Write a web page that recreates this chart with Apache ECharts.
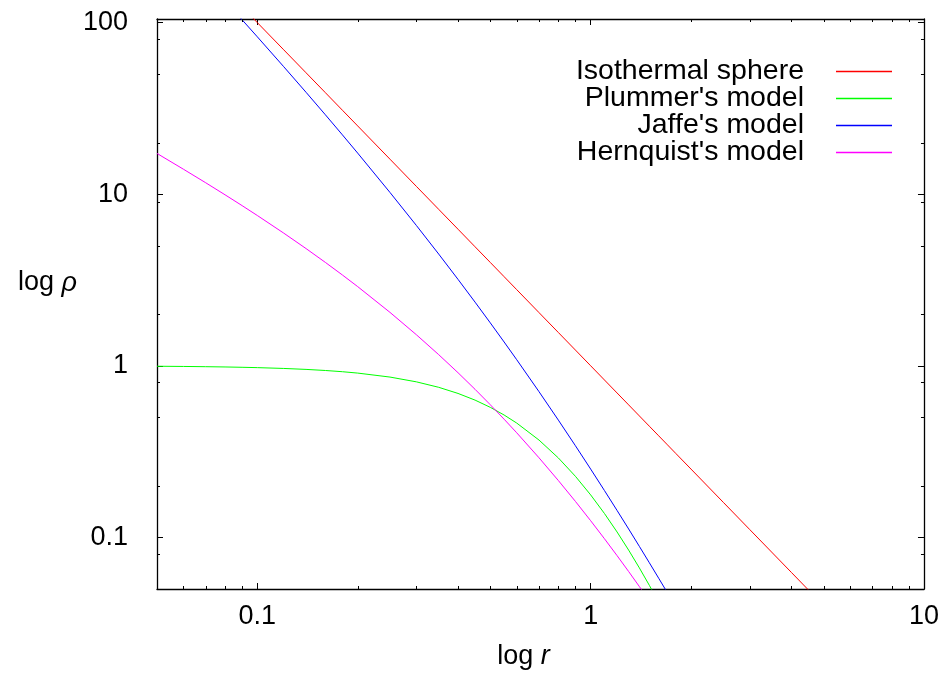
<!DOCTYPE html>
<html>
<head>
<meta charset="utf-8">
<script src="https://cdn.jsdelivr.net/npm/echarts@6/dist/echarts.min.js"></script>
<style>html,body{margin:0;padding:0;background:#fff}#c{width:942px;height:676px}</style>
</head>
<body>
<div id="c"></div>
<script>
// ---- data ----
const seriesNames = ["Isothermal sphere", "Plummer's model", "Jaffe's model", "Hernquist's model"];
const seriesColors = ['#ff0000', '#00ff00', '#0000ff', '#ff00ff'];
const radius = [0.05,0.06,0.07,0.08,0.09,0.1,0.12,0.14,0.16,0.18,0.2,0.25,0.3,0.35,0.4,0.45,0.5,0.55,0.6,0.7,0.8,0.9,1,1.1,1.2,1.3,1.4,1.5,1.6,1.7,1.8,2,2.5,3,4,5];
const isothermal = [400,277.8,204.1,156.3,123.5,100,69.44,51.02,39.06,30.86,25,16,11.11,8.163,6.25,4.938,4,3.306,2.778,2.041,1.5625,1.235,1,0.8264,0.6944,0.5917,0.5102,0.4444,0.3906,0.3460,0.3086,0.25,0.16,0.1111,0.0625,0.04];
const plummer = [0.9938,0.9911,0.9878,0.9842,0.9800,0.9754,0.9649,0.9526,0.9388,0.9234,0.9066,0.8594,0.8062,0.7491,0.6900,0.6307,0.5724,0.5165,0.4636,0.3690,0.2903,0.2269,0.1768,0.1377,0.1075,0.08425,0.06635,0.05252,0.04181,0.03352,0.02700,0.01789,0.00707,0.00316,0.00084,0.00029];
const jaffe = [362.8,247.2,178.3,134.0,103.9,82.64,55.36,39.26,29.03,22.17,17.36,10.24,6.575,4.479,3.189,2.349,1.778,1.376,1.085,0.7062,0.4823,0.3420,0.25,0.1874,0.1435,0.1119,0.08858,0.07111,0.05778,0.04747,0.03937,0.02778,0.01306,0.006944,0.0025,0.00111];
const hernquist = [17.28,13.99,11.66,9.923,8.580,7.513,5.932,4.821,4.004,3.381,2.894,2.048,1.517,1.161,0.9111,0.7289,0.5926,0.4882,0.4069,0.2908,0.2143,0.1620,0.125,0.09816,0.07826,0.06322,0.05167,0.04267,0.03556,0.02989,0.02531,0.01852,0.00933,0.00521,0.002,0.00093];
const xTickValues = [0.1, 1, 10];
const xTickLabels = ['0.1', '1', '10'];
const yTickValues = [0.1, 1, 10, 100];
const yTickLabels = ['0.1', '1', '10', '100'];
const xMinorTicks = [0.06,0.07,0.08,0.09,0.2,0.3,0.4,0.5,0.6,0.7,0.8,0.9,2,3,4,5,6,7,8,9];
const yMinorTicks = [0.08,0.2,0.5,0.8,2,5,9,20,50,80];
const X_RANGE = [0.05, 10];
const Y_RANGE = [0.05, 105];
const xTitle = 'log {i|r}';
const yTitle = 'log {i|ρ}';

// ---- chart ----
const FONT = '"Liberation Sans", Arial, sans-serif';
const FS = 27;
const FS_LEGEND = 28.5;
function tickFormatter(values, labels) {
  return function (v) {
    const i = values.findIndex(t => Math.abs(Math.log10(v) - Math.log10(t)) < 1e-6);
    return i >= 0 ? labels[i] : '';
  };
}
const curves = [isothermal, plummer, jaffe, hernquist];
const lineSeries = curves.map((vals, k) => ({
  type: 'line',
  name: seriesNames[k],
  data: radius.map((r, i) => [r, vals[i]]),
  showSymbol: false,
  symbol: 'none',
  clip: true,
  color: seriesColors[k],
  itemStyle: { color: seriesColors[k] },
  lineStyle: { width: 1, color: seriesColors[k] },
  emphasis: { disabled: true },
  z: 2
}));
const tickStyle = { stroke: '#000', lineWidth: 1 };
const minorX = {
  type: 'custom', name: 'xMinor', silent: true, clip: false, z: 5,
  data: xMinorTicks.map(v => [v, 1]),
  renderItem: function (params, api) {
    const cs = params.coordSys;
    const x = Math.round(api.coord([api.value(0), 1])[0]) + 0.5;
    const b = cs.y + cs.height, t = cs.y;
    return { type: 'group', children: [
      { type: 'line', shape: { x1: x, y1: b, x2: x, y2: b - 3 }, style: tickStyle },
      { type: 'line', shape: { x1: x, y1: t, x2: x, y2: t + 3 }, style: tickStyle }
    ]};
  }
};
const minorY = {
  type: 'custom', name: 'yMinor', silent: true, clip: false, z: 5,
  data: yMinorTicks.map(v => [1, v]),
  renderItem: function (params, api) {
    const cs = params.coordSys;
    const y = Math.round(api.coord([1, api.value(1)])[1]) + 0.5;
    const l = cs.x, r = cs.x + cs.width;
    return { type: 'group', children: [
      { type: 'line', shape: { x1: l, y1: y, x2: l + 3, y2: y }, style: tickStyle },
      { type: 'line', shape: { x1: r, y1: y, x2: r - 3, y2: y }, style: tickStyle }
    ]};
  }
};
const axisLine = { show: true, onZero: false, lineStyle: { color: '#000', width: 1.3 } };
const majorTick = { show: true, inside: true, length: 6, lineStyle: { color: '#000', width: 1 } };
const labelBase = { color: '#000', fontSize: FS, fontFamily: FONT };
const nameStyle = { color: '#000', fontSize: FS, fontFamily: FONT,
  rich: { i: { fontStyle: 'italic', fontSize: FS, fontFamily: FONT, color: '#000' } } };

const option = {
  animation: false,
  backgroundColor: '#fff',
  grid: { left: 157, right: 17, top: 19, bottom: 87, containLabel: false },
  legend: {
    data: seriesNames.map(n => ({ name: n, icon: 'rect' })),
    orient: 'vertical', align: 'right',
    right: 50, top: 57, padding: 0, itemGap: -2,
    itemWidth: 56, itemHeight: 1.5, selectedMode: false,
    textStyle: { color: '#000', fontSize: FS_LEGEND, fontFamily: FONT, lineHeight: 27, padding: [0, 27, 0, 0] }
  },
  xAxis: [{
    type: 'log', logBase: 10, min: X_RANGE[0], max: X_RANGE[1], position: 'bottom',
    axisLine: axisLine, axisTick: majorTick,
    axisLabel: Object.assign({ margin: 14, formatter: tickFormatter(xTickValues, xTickLabels), showMinLabel: false, showMaxLabel: true }, labelBase),
    splitLine: { show: false }, minorTick: { show: false },
    name: xTitle, nameLocation: 'middle', nameGap: 54,
    nameTextStyle: Object.assign({ padding: [0, 34, 0, 0] }, nameStyle)
  }, {
    type: 'log', logBase: 10, min: X_RANGE[0], max: X_RANGE[1], position: 'top',
    axisLine: axisLine, axisTick: majorTick, axisLabel: { show: false }, splitLine: { show: false }
  }],
  yAxis: [{
    type: 'log', logBase: 10, min: Y_RANGE[0], max: Y_RANGE[1], position: 'left',
    axisLine: axisLine, axisTick: majorTick,
    axisLabel: Object.assign({ margin: 29, formatter: tickFormatter(yTickValues, yTickLabels), showMinLabel: false, showMaxLabel: false }, labelBase),
    splitLine: { show: false }, minorTick: { show: false },
    name: yTitle, nameLocation: 'middle', nameRotate: 0, nameGap: 80,
    nameTextStyle: Object.assign({ padding: [0, 0, 42, 0] }, nameStyle)
  }, {
    type: 'log', logBase: 10, min: Y_RANGE[0], max: Y_RANGE[1], position: 'right',
    axisLine: axisLine, axisTick: majorTick, axisLabel: { show: false }, splitLine: { show: false }
  }],
  series: lineSeries.concat([minorX, minorY])
};
const chart = echarts.init(document.getElementById('c'), null, { renderer: 'canvas' });
chart.setOption(option);
</script>
</body>
</html>
